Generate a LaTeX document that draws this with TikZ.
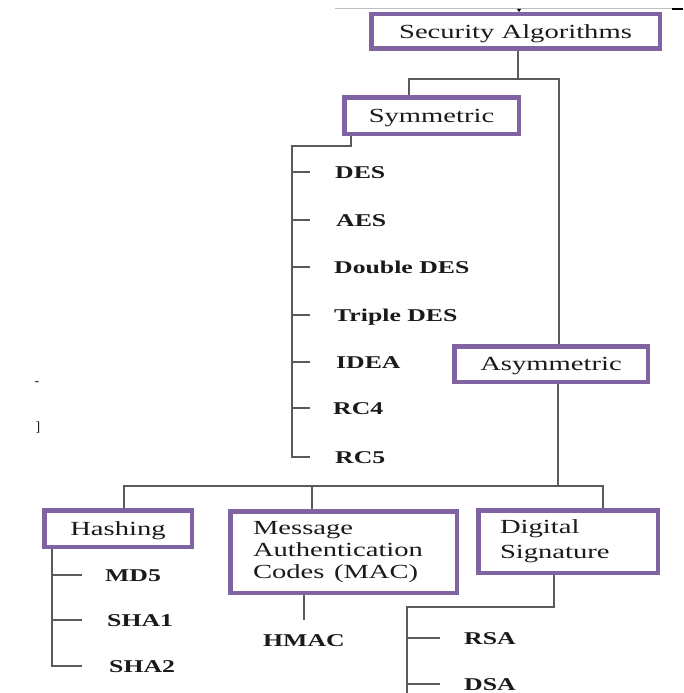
\documentclass[tikz,border=0pt]{standalone}
\usepackage{graphicx}
\usepackage{fontspec}
\setmainfont{Liberation Serif}
\definecolor{boxpurple}{HTML}{8064A2}
\definecolor{linegray}{HTML}{5A5A5A}
\definecolor{txt}{HTML}{1A1A1A}
\newcommand{\wide}[1]{\scalebox{1.43}[1]{#1}}
\begin{document}
\begin{tikzpicture}[x=1pt,y=-1pt,
  catbox/.style={draw=boxpurple, line width=4.5pt, fill=white, inner sep=0pt,
    text=txt, font=\fontsize{20}{23}\selectfont},
  onebox/.style={catbox, text height=13pt, text depth=0pt},
  item/.style={anchor=west, inner sep=0pt, text height=12pt, text depth=0pt,
    text=txt, font=\fontsize{18}{20}\selectfont\bfseries},
  conn/.style={draw=linegray, line width=1.5pt},
  faint/.style={draw=black!25, line width=1pt}
]
\useasboundingbox[fill=white] (0,0) rectangle (683,693);

% top scan artefacts
\coordinate (tl) at (335,9);
\coordinate (tr) at (683,9);
\draw[faint] (tl) -- (tr);
\coordinate (tm) at (519,9);
\fill[black] (tm) ++(-2,0) -- ++(4,0) -- ++(-2,3) -- cycle;
\coordinate (te) at (672,9);
\draw[black, line width=2pt] (te) -- (tr);
\node[inner sep=0pt, text=txt, font=\fontsize{14}{14}\selectfont] (art1) at (37,384) {-};
\node[inner sep=0pt, text=txt, font=\fontsize{14}{14}\selectfont] (art2) at (38,428) {]};

% category boxes
\node[onebox, minimum width=288.5pt, minimum height=34.5pt] (sa) at (515.5,31.5) {\wide{Security Algorithms}\hspace{14pt}};
\node[onebox, minimum width=174.5pt, minimum height=36.5pt] (sym) at (431.5,115.5) {\wide{Symmetric}\hspace{7pt}};
\node[onebox, minimum width=193.5pt, minimum height=35.5pt] (asym) at (551,364) {\wide{Asymmetric}\hspace{6pt}};
\node[onebox, minimum width=147.5pt, minimum height=36.5pt] (hash) at (118,528.5) {\wide{Hashing}\hspace{6pt}};
\node[catbox, minimum width=226.5pt, minimum height=81.5pt, align=left, text width=181pt,
  font=\fontsize{20}{22}\selectfont] (mac) at (343.5,552)
  {\wide{Message}\\\wide{Authentication}\\\wide{Codes (MAC)}};
\node[catbox, minimum width=179.5pt, minimum height=62.5pt, align=left, text width=136pt,
  font=\fontsize{20}{25}\selectfont] (ds) at (568,541.5)
  {\wide{Digital}\\\wide{Signature}};

% items
\node[item] (des)  at (335,172) {\wide{DES}};
\node[item] (aes)  at (336,220) {\wide{AES}};
\node[item] (ddes) at (334,267) {\wide{Double DES}};
\node[item] (tdes) at (334,315) {\wide{Triple DES}};
\node[item] (idea) at (336,362) {\wide{IDEA}};
\node[item] (rc4)  at (333,408) {\wide{RC4}};
\node[item] (rc5)  at (335,457) {\wide{RC5}};
\node[item] (md5)  at (105,575) {\wide{MD5}};
\node[item] (sha1) at (107,620) {\wide{SHA1}};
\node[item] (sha2) at (109,666) {\wide{SHA2}};
\node[item] (hmac) at (263,640) {\wide{HMAC}};
\node[item] (rsa)  at (464,638) {\wide{RSA}};
\node[item] (dsa)  at (464,684) {\wide{DSA}};

% connectors: root
\coordinate (t1)  at (518,79);
\coordinate (t1l) at (409,79);
\coordinate (t1r) at (559,79);
\draw[conn] (sa.south -| t1) -- (t1);
\draw[conn] (sym.north -| t1l) -- (t1l) -- (t1r) -- (asym.north -| t1r);

% symmetric list
\coordinate (s1) at (351,146);
\coordinate (s2) at (292,146);
\draw[conn] (sym.south -| s1) -- (s1) -- (s2) -- (s2 |- rc5.west) -- ++(18,0);
\foreach \n in {des,aes,ddes,tdes,idea,rc4}
  \draw[conn] (s2 |- \n.west) -- ++(18,0);

% asymmetric split
\coordinate (a1) at (558,486);
\coordinate (hl) at (124,486);
\coordinate (hm) at (312,486);
\coordinate (hr) at (603,486);
\draw[conn] (asym.south -| a1) -- (a1);
\draw[conn] (hash.north -| hl) -- (hl) -- (hr) -- (ds.north -| hr);
\draw[conn] (hm) -- (mac.north -| hm);

% hashing list
\coordinate (h1) at (52,560);
\draw[conn] (hash.south -| h1) -- (h1 |- sha2.west) -- ++(30,0);
\foreach \n in {md5,sha1}
  \draw[conn] (h1 |- \n.west) -- ++(30,0);

% MAC
\coordinate (m1) at (304,620);
\draw[conn] (mac.south -| m1) -- (m1);

% digital signature list
\coordinate (d1) at (554,607);
\coordinate (d2) at (407,607);
\coordinate (d3) at (407,693);
\draw[conn] (ds.south -| d1) -- (d1) -- (d2) -- (d3);
\foreach \n in {rsa,dsa}
  \draw[conn] (d2 |- \n.west) -- ++(33,0);
\end{tikzpicture}
\end{document}
